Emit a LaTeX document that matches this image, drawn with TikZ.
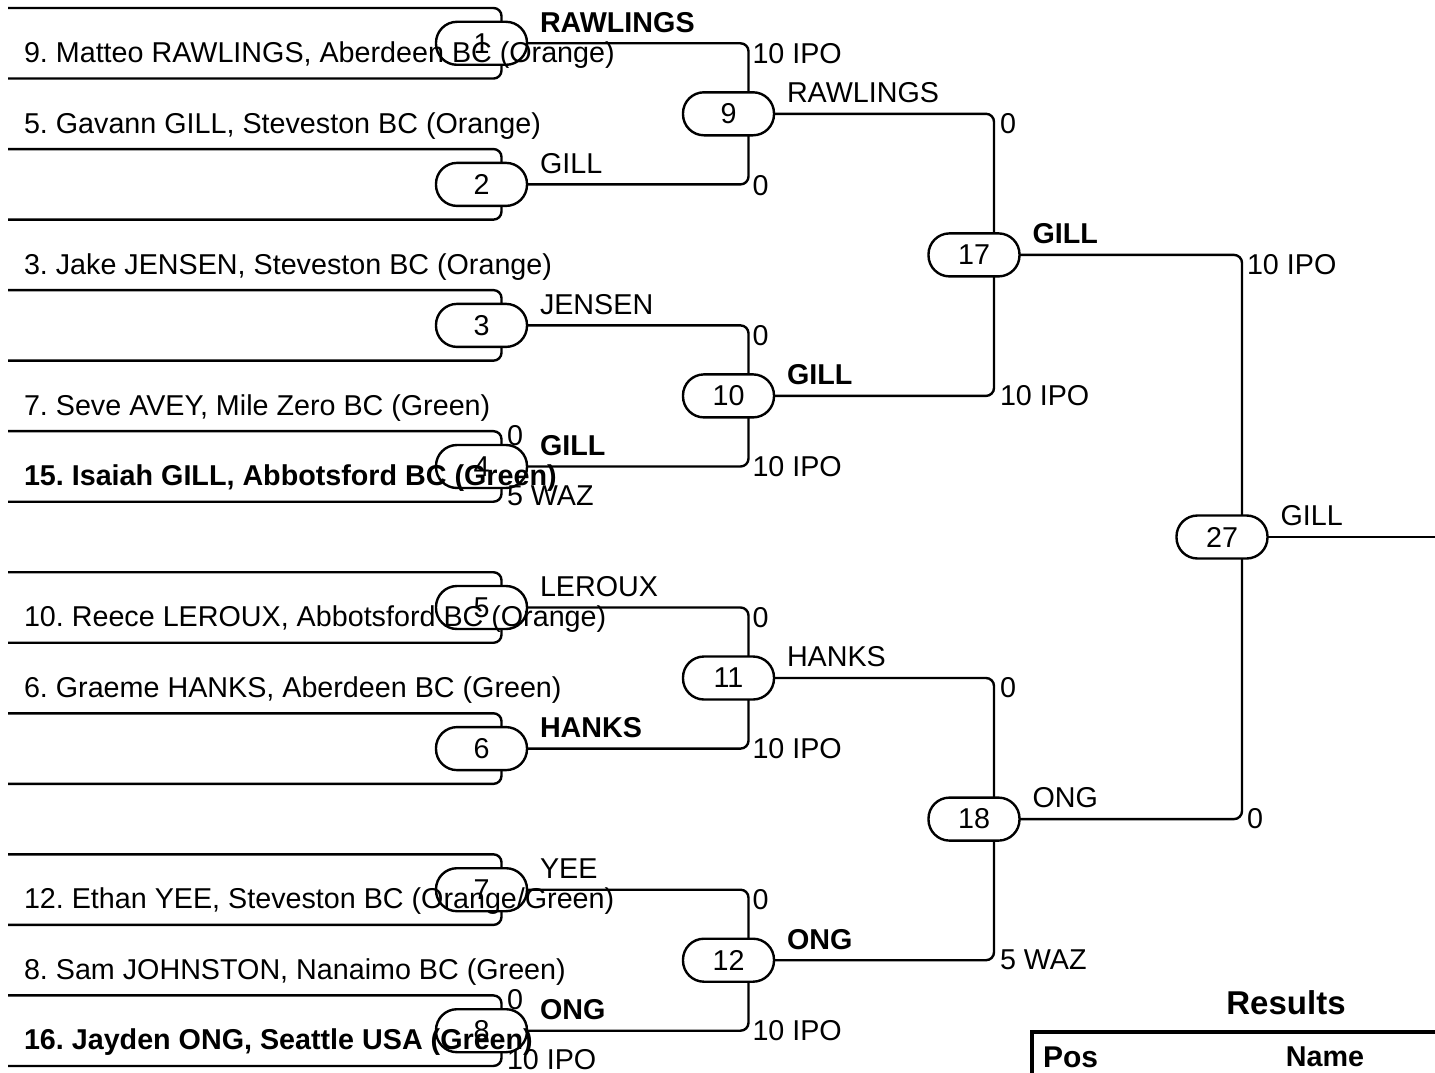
\documentclass[tikz,border=0pt]{standalone}
\usepackage{fontspec}
\setmainfont{Liberation Sans}
\usetikzlibrary{calc}
\frenchspacing
\begin{document}
\begin{tikzpicture}[x=1pt,y=-1pt,
  every node/.style={inner sep=0pt,outer sep=0pt},
  txt/.style={font=\fontsize{28.7}{32}\selectfont},
  btxt/.style={font=\fontsize{28.7}{32}\selectfont\bfseries},
  match/.style={draw,line width=2.4pt,rounded corners=21pt,minimum width=91pt,minimum height=43pt,font=\fontsize{28.7}{32}\selectfont},
  wire/.style={line width=2.4pt,rounded corners=8pt},
  score/.style={txt,anchor=west},
  winner/.style={anchor=west},
]
\useasboundingbox (0,0) rectangle (1435,1073);
% match nodes
\node[match] (m1) at (481.5,43.3) {1};
\node[match] (m2) at (481.5,184.4) {2};
\node[match] (m3) at (481.5,325.4) {3};
\node[match] (m4) at (481.5,466.5) {4};
\node[match] (m5) at (481.5,607.5) {5};
\node[match] (m6) at (481.5,748.6) {6};
\node[match] (m7) at (481.5,889.7) {7};
\node[match] (m8) at (481.5,1030.7) {8};
\node[match] (m9) at (728.5,113.8) {9};
\node[match] (m10) at (728.5,395.9) {10};
\node[match] (m11) at (728.5,678) {11};
\node[match] (m12) at (728.5,960.2) {12};
\node[match] (m17) at (974,254.9) {17};
\node[match] (m18) at (974,819.1) {18};
\node[match] (m27) at (1222,537) {27};
% entry lines
\foreach \k/\m/\side in {0/m1/north,1/m1/south,2/m2/north,3/m2/south,4/m3/north,5/m3/south,6/m4/north,7/m4/south,8/m5/north,9/m5/south,10/m6/north,11/m6/south,12/m7/north,13/m7/south,14/m8/north,15/m8/south}{
  \coordinate (s\k) at (8,{8+70.53*\k});
  \draw[wire] (s\k) -| ([xshift=20pt]\m.\side);
}
% entry names
\node[txt,anchor=base west] (e1) at (24,{8+70.53*1-16}) {9. Matteo RAWLINGS, Aberdeen BC (Orange)};
\node[txt,anchor=base west] (e2) at (24,{8+70.53*2-16}) {5. Gavann GILL, Steveston BC (Orange)};
\node[txt,anchor=base west] (e4) at (24,{8+70.53*4-16}) {3. Jake JENSEN, Steveston BC (Orange)};
\node[txt,anchor=base west] (e6) at (24,{8+70.53*6-16}) {7. Seve AVEY, Mile Zero BC (Green)};
\node[btxt,anchor=base west] (e7) at (24,{8+70.53*7-16}) {15. Isaiah GILL, Abbotsford BC (Green)};
\node[txt,anchor=base west] (e9) at (24,{8+70.53*9-16}) {10. Reece LEROUX, Abbotsford BC (Orange)};
\node[txt,anchor=base west] (e10) at (24,{8+70.53*10-16}) {6. Graeme HANKS, Aberdeen BC (Green)};
\node[txt,anchor=base west] (e13) at (24,{8+70.53*13-16}) {12. Ethan YEE, Steveston BC (Orange/Green)};
\node[txt,anchor=base west] (e14) at (24,{8+70.53*14-16}) {8. Sam JOHNSTON, Nanaimo BC (Green)};
\node[btxt,anchor=base west] (e15) at (24,{8+70.53*15-16}) {16. Jayden ONG, Seattle USA (Green)};
% round-1 scores
\node[score] (sc4a) at (507,{8+70.53*6+4}) {0};
\node[score] (sc4b) at (507,{8+70.53*7-6}) {5 WAZ};
\node[score] (sc8a) at (507,{8+70.53*14+4}) {0};
\node[score] (sc8b) at (507,{8+70.53*15-6}) {10 IPO};
% connectors round 1 -> 2
\draw[wire] (m1.east) -| ([xshift=20pt]m9.north);
\draw[wire] (m2.east) -| ([xshift=20pt]m9.south);
\draw[wire] (m3.east) -| ([xshift=20pt]m10.north);
\draw[wire] (m4.east) -| ([xshift=20pt]m10.south);
\draw[wire] (m5.east) -| ([xshift=20pt]m11.north);
\draw[wire] (m6.east) -| ([xshift=20pt]m11.south);
\draw[wire] (m7.east) -| ([xshift=20pt]m12.north);
\draw[wire] (m8.east) -| ([xshift=20pt]m12.south);
% round 2 -> 3
\draw[wire] (m9.east) -| ([xshift=20pt]m17.north);
\draw[wire] (m10.east) -| ([xshift=20pt]m17.south);
\draw[wire] (m11.east) -| ([xshift=20pt]m18.north);
\draw[wire] (m12.east) -| ([xshift=20pt]m18.south);
% round 3 -> final
\draw[wire] (m17.east) -| ([xshift=20pt]m27.north);
\draw[wire] (m18.east) -| ([xshift=20pt]m27.south);
\coordinate (fin) at (1435,537);
\draw[wire] (m27.east) -- (fin);
% winner labels
\node[btxt,winner] (w1) at ($(m1.east)+(13,-21)$) {RAWLINGS};
\node[txt,winner] (w2) at ($(m2.east)+(13,-21)$) {GILL};
\node[txt,winner] (w3) at ($(m3.east)+(13,-21)$) {JENSEN};
\node[btxt,winner] (w4) at ($(m4.east)+(13,-21)$) {GILL};
\node[txt,winner] (w5) at ($(m5.east)+(13,-21)$) {LEROUX};
\node[btxt,winner] (w6) at ($(m6.east)+(13,-21)$) {HANKS};
\node[txt,winner] (w7) at ($(m7.east)+(13,-21)$) {YEE};
\node[btxt,winner] (w8) at ($(m8.east)+(13,-21)$) {ONG};
\node[txt,winner] (w9) at ($(m9.east)+(13,-21)$) {RAWLINGS};
\node[btxt,winner] (w10) at ($(m10.east)+(13,-21)$) {GILL};
\node[txt,winner] (w11) at ($(m11.east)+(13,-21)$) {HANKS};
\node[btxt,winner] (w12) at ($(m12.east)+(13,-21)$) {ONG};
\node[btxt,winner] (w17) at ($(m17.east)+(13,-21)$) {GILL};
\node[txt,winner] (w18) at ($(m18.east)+(13,-21)$) {ONG};
\node[txt,winner] (w27) at ($(m27.east)+(13,-21)$) {GILL};
% scores at joins
\node[score] (c1) at (752.5,{43.3+10}) {10 IPO};
\node[score] (c2) at (752.5,{184.4+1}) {0};
\node[score] (c3) at (752.5,{325.4+10}) {0};
\node[score] (c4) at (752.5,{466.5}) {10 IPO};
\node[score] (c5) at (752.5,{607.5+10}) {0};
\node[score] (c6) at (752.5,{748.6}) {10 IPO};
\node[score] (c7) at (752.5,{889.7+10}) {0};
\node[score] (c8) at (752.5,{1030.7}) {10 IPO};
\node[score] (c9) at (1000,{113.8+10}) {0};
\node[score] (c10) at (1000,{395.9}) {10 IPO};
\node[score] (c11) at (1000,{678+10}) {0};
\node[score] (c12) at (1000,{960.2}) {5 WAZ};
\node[score] (c17) at (1247,{254.9+10}) {10 IPO};
\node[score] (c18) at (1247,{819.1}) {0};
% results
\node[font=\fontsize{33}{38}\selectfont\bfseries] (res) at (1286,1003) {Results};
\coordinate (tl) at (1032,1032);
\coordinate (tr) at (1435,1032);
\coordinate (bl) at (1032,1073);
\draw[line width=4pt] (bl) -- (tl) -- (tr);
\node[font=\fontsize{30}{34}\selectfont\bfseries,anchor=west] (pos) at (1043,1057) {Pos};
\node[btxt] (nm) at (1325,1057) {Name};
\end{tikzpicture}
\end{document}
